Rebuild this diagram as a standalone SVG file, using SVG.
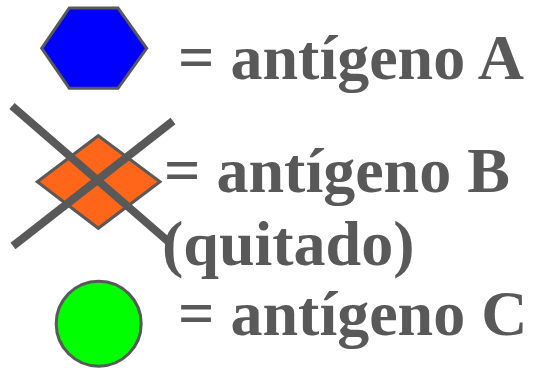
<svg xmlns="http://www.w3.org/2000/svg" width="534" height="370" viewBox="0 0 534 370">
<style>
.lbl{font-family:"Liberation Serif","Times New Roman",serif;font-weight:bold;font-size:64px;fill:#595959}
.shp{stroke:#595959;stroke-width:3}
.x{stroke:#595959;stroke-width:8;fill:none}
</style>
<rect width="534" height="370" fill="#fff"/>
<g id="antigenA">
<polygon class="shp" fill="#0000ff" points="69.3,8 118,8 146.7,48.3 118,88.3 69.3,88.3 41.7,48.3"/>
<text class="lbl" x="178" y="79">= antígeno A</text>
</g>
<g id="antigenB">
<polygon class="shp" fill="#ff6619" points="98.3,135.7 160,181.7 98.3,228.3 37.3,181.7"/>
<g class="x">
<line x1="12" y1="106" x2="170" y2="243"/>
<line x1="13" y1="246" x2="173" y2="121"/>
</g>
<text class="lbl" x="164" y="192">= antígeno B</text>
<text class="lbl" x="162" y="265">(quitado)</text>
</g>
<g id="antigenC">
<circle class="shp" fill="#00ff00" cx="98.7" cy="323.7" r="42.5"/>
<text class="lbl" x="178" y="335">= antígeno C</text>
</g>
<g id="connectors"/>
</svg>
